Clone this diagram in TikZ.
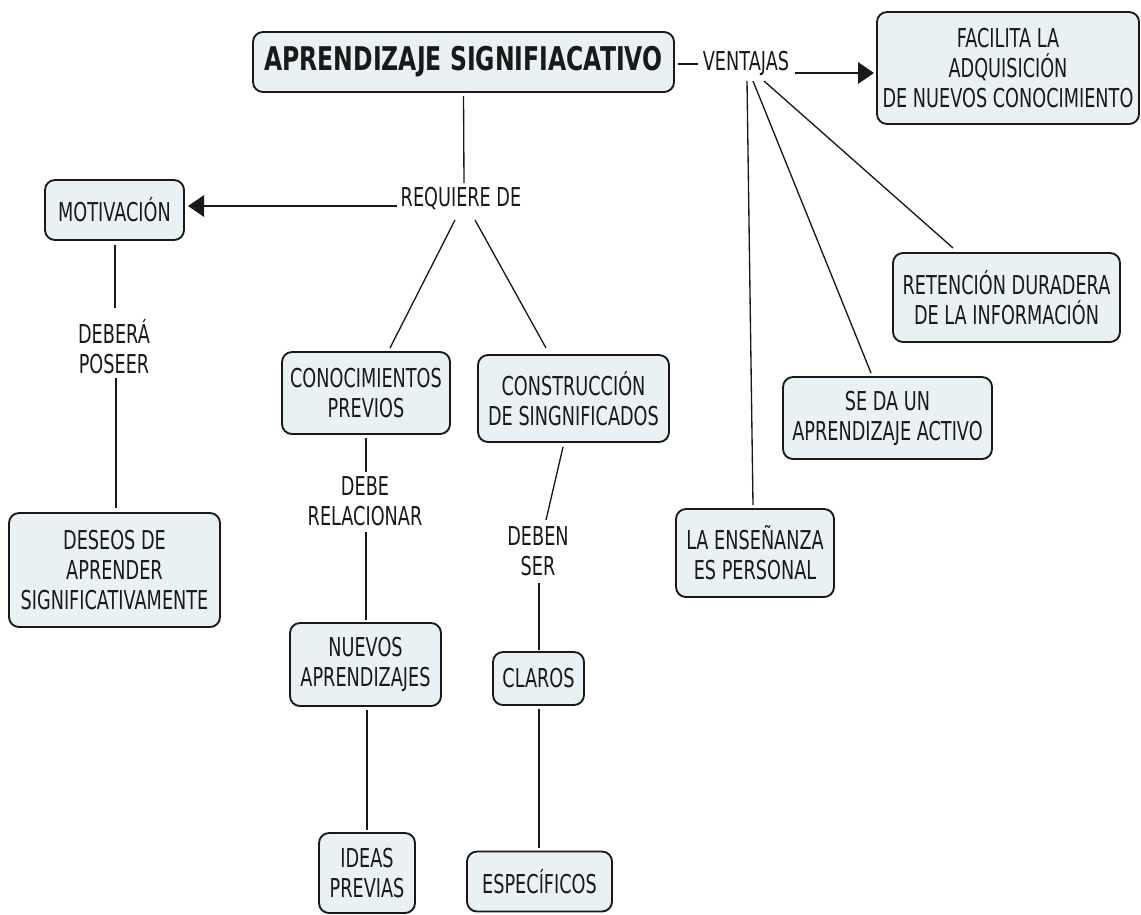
\documentclass[tikz,border=0pt]{standalone}
\usepackage{fontspec}
\setmainfont{DejaVu Sans}[FakeStretch=0.68]
\newfontfamily\titlefont{DejaVu Sans}[FakeStretch=0.72]
\usetikzlibrary{arrows.meta}
\definecolor{boxfill}{RGB}{234,241,244}
\definecolor{ink}{RGB}{25,25,25}
\begin{document}
\begin{tikzpicture}[x=0.75pt,y=-0.75pt,
  box/.style={draw=ink, line width=1.4pt, fill=boxfill, rounded corners=7.5pt, align=center, inner sep=0pt, outer sep=0pt, text=ink, font=\fontsize{19.5}{22.5}\selectfont},
  bwh/.style 2 args={minimum width=#1*0.75pt, minimum height=#2*0.75pt},
  lbl/.style={align=center, inner sep=1pt, text=ink, font=\fontsize{19.5}{22.5}\selectfont},
  conn/.style={draw=ink, line width=1pt},
  arr/.style={draw=ink, line width=1.7pt, -{Triangle[length=12pt,width=16pt]}}]
\useasboundingbox[fill=white] (0,0) rectangle (1141,914);

% boxes
\node[box, bwh={421}{60}, font=\titlefont\bfseries\fontsize{24.5}{28}\selectfont] (main) at (463.5,62) {APRENDIZAJE SIGNIFIACATIVO};
\node[box, bwh={262}{112}] (facil) at (1008,68) {FACILITA LA\\ADQUISICIÓN\\DE NUEVOS CONOCIMIENTO};
\node[box, bwh={139}{60}] (motiv) at (114.5,210) {MOTIVACIÓN};
\node[box, bwh={211}{114}] (deseos) at (114.5,570) {DESEOS DE\\APRENDER\\SIGNIFICATIVAMENTE};
\node[box, bwh={168}{82}] (conoc) at (366,393) {CONOCIMIENTOS\\PREVIOS};
\node[box, bwh={191}{87}] (constr) at (573.5,398.5) {CONSTRUCCIÓN\\DE SINGNIFICADOS};
\node[box, bwh={151}{83}] (nuevos) at (365.5,664.5) {NUEVOS\\APRENDIZAJES};
\node[box, bwh={96}{80}] (ideas) at (367,873) {IDEAS\\PREVIAS};
\node[box, bwh={91}{53}] (claros) at (538.5,678.5) {CLAROS};
\node[box, bwh={145}{60}] (especif) at (539.5,881.5) {ESPECÍFICOS};
\node[box, bwh={227}{89}] (retenc) at (1006.5,297.5) {RETENCIÓN DURADERA\\DE LA INFORMACIÓN};
\node[box, bwh={209}{82}] (seda) at (887.5,418) {SE DA UN\\APRENDIZAJE ACTIVO};
\node[box, bwh={158}{88}] (laens) at (755,553) {LA ENSEÑANZA\\ES PERSONAL};

% linking phrases
\node[lbl] (ventajas) at (746,63) {VENTAJAS};
\node[lbl] (requiere) at (461,199) {REQUIERE DE};
\node[lbl] (debera) at (114,347) {DEBERÁ\\POSEER};
\node[lbl] (debe) at (365,501) {DEBE\\RELACIONAR};
\node[lbl] (deben) at (538,551) {DEBEN\\SER};

% connectors
\draw[conn] ([shift={(4,2)}]main.east) -- ([shift={(-48,1)}]ventajas.center);
\draw[arr] ([shift={(49,10)}]ventajas.center) -- ([shift={(-3,5)}]facil.west);
\draw[conn] ([shift={(0,4)}]main.south) -- ([shift={(3,-16)}]requiere.center);
\draw[arr] ([shift={(-64,7)}]requiere.center) -- ([shift={(4,-4)}]motiv.east);
\draw[conn] ([shift={(0.5,5)}]motiv.south) -- ([shift={(1,-39)}]debera.center);
\draw[conn] ([shift={(2,31)}]debera.center) -- ([shift={(1.5,-5)}]deseos.north);
\draw[conn] ([shift={(-6,21)}]requiere.center) -- ([shift={(24,-4)}]conoc.north);
\draw[conn] ([shift={(14,21)}]requiere.center) -- ([shift={(-27.5,-7)}]constr.north);
\draw[conn] ([shift={(0,4)}]conoc.south) -- ([shift={(1,-29)}]debe.center);
\draw[conn] ([shift={(1,31)}]debe.center) -- ([shift={(0.5,-3)}]nuevos.north);
\draw[conn] ([shift={(1.5,4)}]nuevos.south) -- ([shift={(0,-3)}]ideas.north);
\draw[conn] ([shift={(-10.5,5)}]constr.south) -- ([shift={(8,-31)}]deben.center);
\draw[conn] ([shift={(1,32)}]deben.center) -- ([shift={(0.5,-2)}]claros.north);
\draw[conn] ([shift={(0.5,4)}]claros.south) -- ([shift={(-0.5,-4)}]especif.north);
\draw[conn] ([shift={(1,18)}]ventajas.center) -- ([shift={(-2,-4)}]laens.north);
\draw[conn] ([shift={(7,18)}]ventajas.center) -- ([shift={(-16.5,-4)}]seda.north);
\draw[conn] ([shift={(18,18)}]ventajas.center) -- ([shift={(-53.5,-5)}]retenc.north);
\end{tikzpicture}
\end{document}
